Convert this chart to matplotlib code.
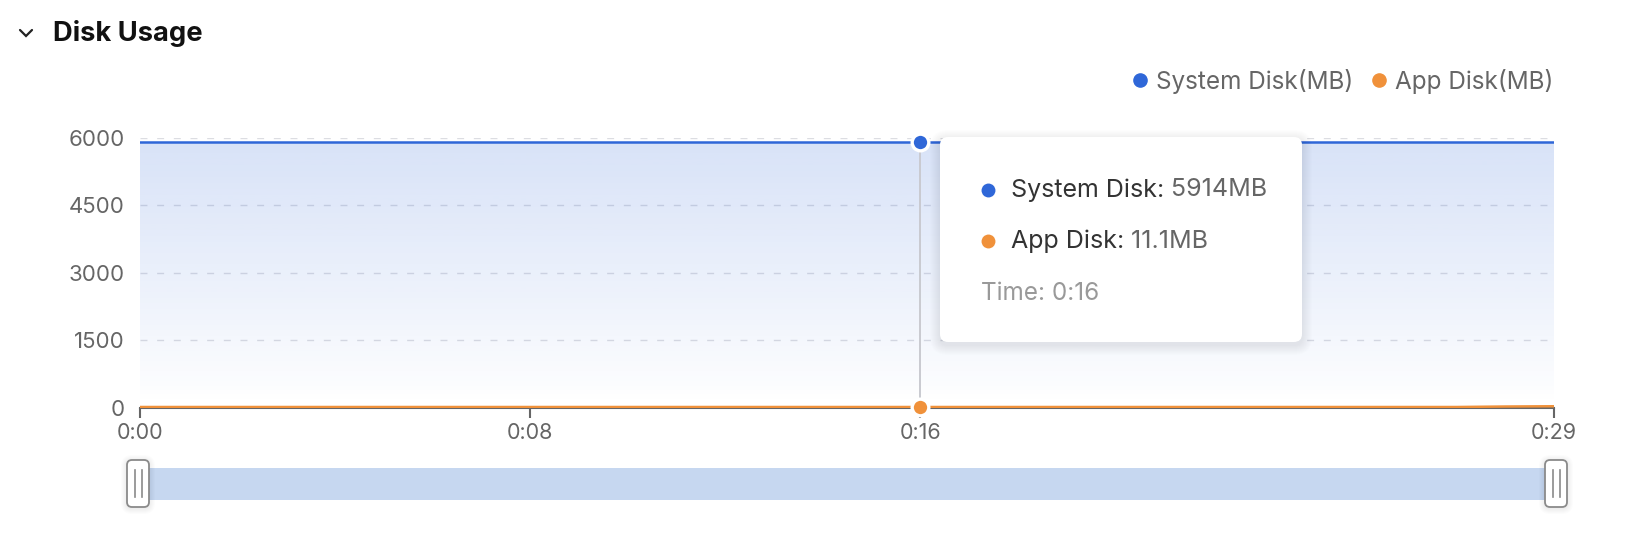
import numpy as np
import matplotlib
matplotlib.use("Agg")
import matplotlib.pyplot as plt
from matplotlib.patches import FancyBboxPatch, Rectangle, Polygon
from matplotlib.lines import Line2D

plt.rcParams['font.family'] = ['Inter', 'DejaVu Sans']

# ---------------- data ----------------
time_sec = list(range(30))
system_disk = [5914] * 30
app_disk = [11.1] * 28 + [22, 28]
x_ticks = [0, 8, 16, 29]
x_tick_labels = ["0:00", "0:08", "0:16", "0:29"]
y_ticks = [0, 1500, 3000, 4500, 6000]
series_names = ["System Disk(MB)", "App Disk(MB)"]
tooltip_labels = ["System Disk", "App Disk"]
hover_index = 16
title = "Disk Usage"

BLUE = "#2f67d8"
ORANGE = "#f0913a"
W, H = 1630, 534

fig = plt.figure(figsize=(W / 100, H / 100), dpi=100)

def fx(px):
    return px / W

def fy(py):
    return 1 - py / H

ax_left, ax_right, ax_top, ax_bot = 140, 1554, 137.7, 407.5
ax = fig.add_axes([fx(ax_left), fy(ax_bot), (ax_right - ax_left) / W, (ax_bot - ax_top) / H])
ax.set_xlim(time_sec[0], time_sec[-1])
ax.set_ylim(0, 6000)

# gradient fill under system disk line
grad_n = 256
vals = np.linspace(0, 1, grad_n)
alpha = np.clip((vals - 0.02) / 0.98, 0, 1) ** 0.9 * 0.19
rgba = np.zeros((grad_n, 1, 4))
rgba[..., 0] = 0x2f / 255
rgba[..., 1] = 0x67 / 255
rgba[..., 2] = 0xd8 / 255
rgba[:, 0, 3] = alpha
im = ax.imshow(rgba, extent=[time_sec[0], time_sec[-1], 0, 6000], origin='lower',
               aspect='auto', zorder=1, interpolation='bilinear')
poly = ax.fill_between(time_sec, 0, system_disk, color='none', lw=0)
clip = Polygon(poly.get_paths()[0].vertices, closed=True, transform=ax.transData)
im.set_clip_path(clip)

# grid
for yv in y_ticks[1:]:
    ax.axhline(yv, color="#dcdde2", lw=1.0, dashes=(5, 7), zorder=0.5)

ax.plot(time_sec, system_disk, color=BLUE, lw=1.8, zorder=3)
ax.plot(time_sec, app_disk, color=ORANGE, lw=1.8, zorder=3)

# hover line and markers
hx = time_sec[hover_index]
ax.plot([hx, hx], [0, system_disk[hover_index]], color="#c9cad0", lw=1.4, zorder=2)
ax.plot([hx], [system_disk[hover_index]], marker='o', ms=12, mfc=BLUE, mec='white', mew=2.4,
        zorder=5, clip_on=False)
ax.plot([hx], [app_disk[hover_index]], marker='o', ms=12, mfc=ORANGE, mec='white', mew=2.4,
        zorder=5, clip_on=False)

for s in ['top', 'right', 'left']:
    ax.spines[s].set_visible(False)
ax.spines['bottom'].set_color("#666666")
ax.spines['bottom'].set_linewidth(1.5)
ax.spines['bottom'].set_zorder(2.5)
ax.set_xticks(x_ticks)
ax.set_xticklabels(x_tick_labels)
ax.set_yticks(y_ticks)
ax.set_yticklabels([str(v) for v in y_ticks])
ax.tick_params(axis='x', length=7, width=1.5, color="#666666", labelcolor="#666666",
               labelsize=15.5, pad=4)
ax.tick_params(axis='y', length=0, labelcolor="#666666", labelsize=16, pad=11)
ax.patch.set_alpha(0)

# legend
handles = [Line2D([], [], marker='o', ls='none', ms=9.5, color=BLUE),
           Line2D([], [], marker='o', ls='none', ms=9.5, color=ORANGE)]
leg = fig.legend(handles, series_names, loc='center right', ncol=2,
                 bbox_to_anchor=(fx(1553), fy(81)), frameon=False, fontsize=17.5,
                 handlelength=0.6, handletextpad=0.35, columnspacing=0.75,
                 borderpad=0, borderaxespad=0)
for t in leg.get_texts():
    t.set_color("#666666")

# overlay in pixel coords
ov = fig.add_axes([0, 0, 1, 1], zorder=10)
ov.set_xlim(0, W)
ov.set_ylim(H, 0)
ov.axis('off')

# title + chevron
ov.plot([20, 26, 32], [30, 36, 30], color="#222222", lw=1.6, solid_capstyle='round',
        solid_joinstyle='miter')
ov.text(53, 33.5, title, fontsize=19.7, fontweight='bold', color="#111111", va='center', ha='left')

# tooltip with soft shadow
tx0, ty0, tx1, ty1 = 940, 137, 1302, 342
for i in range(10, 0, -1):
    ov.add_patch(FancyBboxPatch((tx0 - i + 0, ty0 - i + 3), (tx1 - tx0) + 2 * i, (ty1 - ty0) + 2 * i,
                                boxstyle="round,pad=0,rounding_size=%g" % (8 + i),
                                fc='black', ec='none', alpha=0.006, zorder=1))
ov.add_patch(FancyBboxPatch((tx0, ty0), tx1 - tx0, ty1 - ty0,
                            boxstyle="round,pad=0,rounding_size=8",
                            fc='white', ec='none', zorder=2))
rows = [(tooltip_labels[0], f"{system_disk[hover_index]}MB", BLUE, 190),
        (tooltip_labels[1], f"{app_disk[hover_index]}MB", ORANGE, 241)]
for lab, val, col, yy in rows:
    ov.plot([988], [yy], marker='o', ms=10, color=col, mec='none', zorder=3)
    t1 = ov.text(1011, yy, lab + ":", fontsize=18, color="#333333", va='center', ha='left', zorder=3)
    ov.annotate(" " + val, xy=(1, 0.5), xycoords=t1, va='center', ha='left', fontsize=18,
                color="#666666", zorder=3)
ov.text(981, 294, f"Time: {x_tick_labels[x_ticks.index(hover_index)]}", fontsize=17.5,
        color="#999999", va='center', ha='left', zorder=3)

# slider
ov.add_patch(Rectangle((138, 468), 1556 - 138, 32, fc="#c6d7f0", ec='none', zorder=1))
for cx in (138, 1556):
    for i in range(6, 0, -1):
        ov.add_patch(FancyBboxPatch((cx - 11 - i, 460 - i + 1), 22 + 2 * i, 47 + 2 * i,
                                    boxstyle="round,pad=0,rounding_size=%g" % (5 + i),
                                    fc='black', ec='none', alpha=0.012, zorder=2))
    ov.add_patch(FancyBboxPatch((cx - 11, 460), 22, 47, boxstyle="round,pad=0,rounding_size=5",
                                fc='white', ec="#8a8a8a", lw=1.3, zorder=3))
    for dx in (-3.5, 3.5):
        ov.plot([cx + dx, cx + dx], [470, 497], color="#8a8a8a", lw=1.2, zorder=4)

fig.savefig("out.png", dpi=100)
